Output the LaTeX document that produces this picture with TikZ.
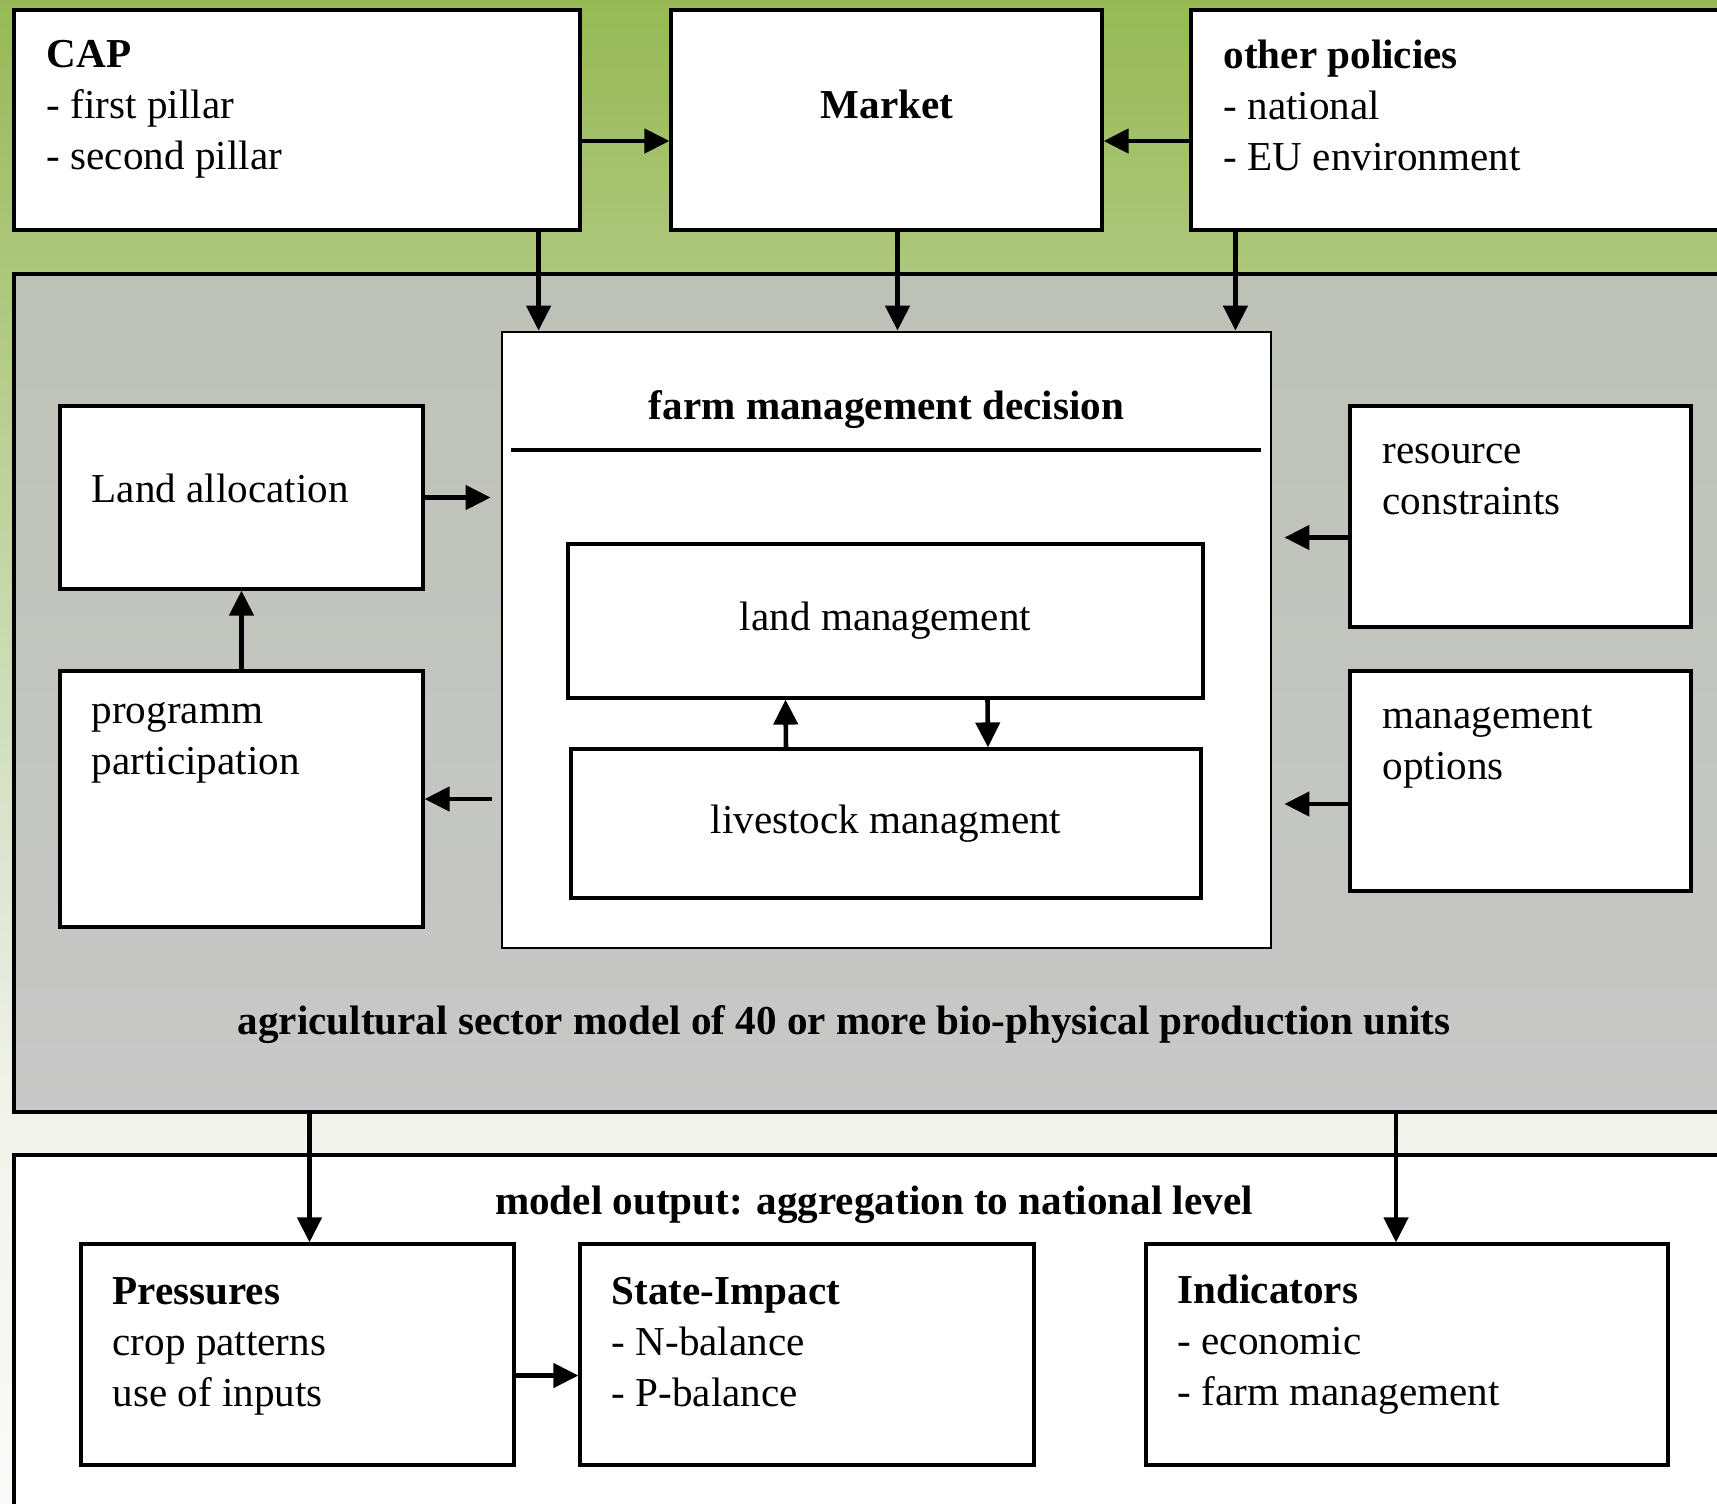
\documentclass[tikz,border=0pt]{standalone}
\usepackage{fontspec}
\setmainfont{Liberation Serif}
\usepackage{xcolor}
\usetikzlibrary{arrows.meta}
\definecolor{leafgreen}{HTML}{97B955}
\definecolor{paleleaf}{HTML}{DDE6D2}
\definecolor{mistleaf}{HTML}{F2F4EC}
\definecolor{nearwhite}{HTML}{FAFAF8}
\definecolor{sectortop}{HTML}{BDC2B7}
\definecolor{sectorbottom}{HTML}{C8C8C8}

\begin{document}
\begin{tikzpicture}

\tikzset{box/.style = {shape=rectangle,draw,fill=white,line width=0.9pt,inner sep=0pt}}
\tikzset{txt/.style = {inner sep=0pt,align=left,font=\fontsize{11.7pt}{14.5pt}\selectfont}}
\tikzset{edge/.style = {->,> = {Triangle[length=0.25cm,width=0.24cm]},line width=1.3pt}}

\useasboundingbox (0,0) rectangle (17.17,-15.03);
\shade[top color=leafgreen,bottom color=paleleaf] (0,0) rectangle (17.17,-8.7);
\shade[top color=paleleaf,bottom color=mistleaf] (0,-8.7) rectangle (17.17,-11.2);
\shade[top color=mistleaf,bottom color=nearwhite] (0,-11.2) rectangle (17.17,-15.03);

%panels
\node[box,top color=sectortop,bottom color=sectorbottom,minimum width=17.36cm,minimum height=8.38cm] (sector) at (8.82,-6.93) {};
\node[box,minimum width=17.36cm,minimum height=3.65cm] (output) at (8.82,-13.375) {};
\node[txt] (sectorlabel) at (8.44,-10.25) {\textbf{agricultural sector model of 40 or more bio-physical production units}};
\node[txt] (outputlabel) at (8.74,-12.045) {\textbf{model output: aggregation to national level}};

%top row
\node[box,minimum width=5.66cm,minimum height=2.20cm] (cap) at (2.97,-1.20) {};
\node[box,minimum width=4.31cm,minimum height=2.20cm] (market) at (8.865,-1.20) {};
\node[box,minimum width=5.59cm,minimum height=2.20cm] (other) at (14.705,-1.20) {};
\node[txt,anchor=north west] (captxt) at (0.46,-0.40) {\textbf{CAP}\\- first pillar\\- second pillar};
\node[txt] (markettxt) at (8.87,-1.04) {\textbf{Market}};
\node[txt,anchor=north west] (othertxt) at (12.23,-0.39) {\textbf{other policies}\\- national\\- EU environment};

%farm
\node[box,line width=0.8pt,minimum width=7.69cm,minimum height=6.16cm] (farm) at (8.865,-6.40) {};
\node[txt] (farmtitle) at (8.865,-4.095) {\textbf{farm management decision}};
\draw[line width=0.9pt] (5.11,-4.50) -- (12.61,-4.50);
\node[box,txt,minimum width=6.35cm,minimum height=1.54cm] (land) at (8.855,-6.21) {land management};
\node[box,txt,minimum width=6.30cm,minimum height=1.49cm] (livestock) at (8.86,-8.235) {livestock managment};

%left and right
\node[box,minimum width=3.63cm,minimum height=1.83cm] (landalloc) at (2.415,-4.975) {};
\node[box,minimum width=3.63cm,minimum height=2.56cm] (programm) at (2.415,-7.99) {};
\node[box,minimum width=3.41cm,minimum height=2.21cm] (resource) at (15.205,-5.165) {};
\node[box,minimum width=3.41cm,minimum height=2.20cm] (mgmt) at (15.205,-7.81) {};
\node[txt,anchor=west] (landalloctxt) at (0.91,-4.88) {Land allocation};
\node[txt,anchor=north west] (programmtxt) at (0.91,-7.02) {programm\\participation};
\node[txt,anchor=north west] (resourcetxt) at (13.82,-4.435) {resource\\constraints};
\node[txt,anchor=north west] (mgmttxt) at (13.82,-7.05) {management\\options};

%output
\node[box,minimum width=4.33cm,minimum height=2.21cm] (pressures) at (2.975,-13.545) {};
\node[box,minimum width=4.54cm,minimum height=2.21cm] (state) at (8.07,-13.545) {};
\node[box,minimum width=5.22cm,minimum height=2.21cm] (indicators) at (14.07,-13.545) {};
\node[txt,anchor=north west] (pressurestxt) at (1.12,-12.77) {\textbf{Pressures}\\crop patterns\\use of inputs};
\node[txt,anchor=north west] (statetxt) at (6.11,-12.77) {\textbf{State-Impact}\\- N-balance\\- P-balance};
\node[txt,anchor=north west] (indicatorstxt) at (11.77,-12.74) {\textbf{Indicators}\\- economic\\- farm management};

%edges
\coordinate (capdown) at ([xshift=-0.43cm]cap.south east);
\coordinate (marketdown) at ([xshift=0.11cm]market.south);
\coordinate (otherdown) at ([xshift=0.46cm]other.south west);
\coordinate (resout) at ([yshift=-0.21cm]resource.west);
\coordinate (mgmtout) at ([yshift=-0.23cm]mgmt.west);
\coordinate (presin) at ([xshift=0.12cm]pressures.north);
\coordinate (indin) at ([xshift=-0.11cm]indicators.north);
\draw[edge] ([yshift=-0.21cm]cap.east) to ([yshift=-0.21cm]market.west);
\draw[edge] ([yshift=-0.21cm]other.west) to ([yshift=-0.21cm]market.east);
\draw[edge] (capdown) to (capdown |- farm.north);
\draw[edge] (marketdown) to (marketdown |- farm.north);
\draw[edge] (otherdown) to (otherdown |- farm.north);
\draw[edge,shorten >=0.1cm] (landalloc.east) to (landalloc.east -| farm.west);
\draw[edge,shorten <=0.09cm] (programm.east -| farm.west) to (programm.east);
\draw[edge] (programm.north) to (landalloc.south);
\draw[edge,shorten >=0.12cm] (resout) to (resout -| farm.east);
\draw[edge,shorten >=0.12cm] (mgmtout) to (mgmtout -| farm.east);
\draw[edge] ([xshift=-1cm]livestock.north) to ([xshift=-1cm]land.south);
\draw[edge] ([xshift=1.02cm]land.south) to ([xshift=1.02cm]livestock.north);
\draw[edge] (presin |- sector.south) to (presin);
\draw[edge] (indin |- sector.south) to (indin);
\draw[edge] ([yshift=-0.21cm]pressures.east) to ([yshift=-0.21cm]state.west);
\end{tikzpicture}
\end{document}
